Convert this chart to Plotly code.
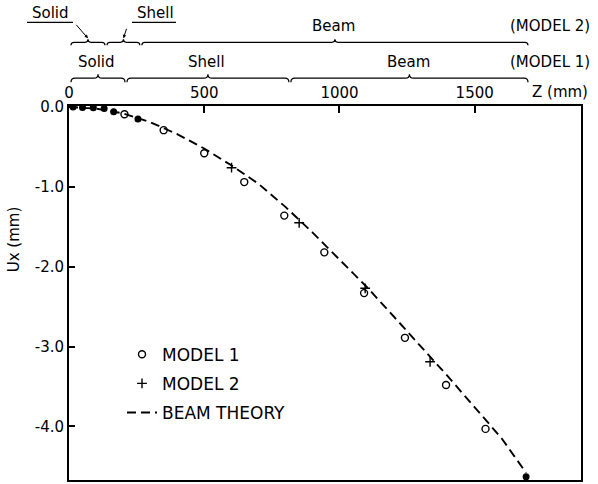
import plotly.graph_objects as go

# Axial position along the model (mm) and lateral displacement Ux (mm)
beam_z = [0, 100, 200, 300, 400, 500, 600, 700, 800, 900, 1000, 1100,
          1200, 1300, 1400, 1500, 1600, 1690]
beam_u = [0.0, -0.02, -0.08, -0.19, -0.34, -0.52, -0.73, -0.96, -1.25, -1.57,
          -1.91, -2.25, -2.62, -2.99, -3.37, -3.76, -4.15, -4.58]

model1_z = [205, 350, 500, 648, 796, 944, 1091, 1242, 1394, 1540]
model1_u = [-0.09, -0.29, -0.58, -0.94, -1.36, -1.82, -2.33, -2.89, -3.48, -4.03]

model2_z = [601, 851, 1095, 1335]
model2_u = [-0.76, -1.45, -2.27, -3.19]

# points where both models give the same result (drawn solid)
both_z = [15, 50, 90, 130, 165, 255, 1690]
both_u = [0.0, -0.005, -0.01, -0.02, -0.06, -0.15, -4.63]

x_ticks = [0, 500, 1000, 1500]
x_tick_text = ["0", "500", "1000", "1500"]
y_ticks = [0, -1, -2, -3, -4]
y_tick_text = ["0.0", "-1.0", "-2.0", "-3.0", "-4.0"]

# element zones along z for each model: (label, start, end)
zones_model1 = [("Solid", 0, 207), ("Shell", 207, 813), ("Beam", 813, 1697)]
zones_model2 = [("Solid", 0, 133), ("Shell", 133, 262), ("Beam", 262, 1697)]

W, H = 598, 484
ML, MR, MT, MB = 69, 17, 106, 2
X_MAX = 1893
Y_RANGE = [-4.67, 0.0125]
FONT = "DejaVu Sans"

plot_w = W - ML - MR
plot_h = H - MT - MB


def px_x(z):
    return ML + z / X_MAX * plot_w


def to_paper(xp, yp):
    return (xp - ML) / plot_w, (H - MB - yp) / plot_h


def brace_path(z0, z1, y, h=4):
    x0, x1 = px_x(z0) + 2, px_x(z1)
    xm = (x0 + x1) / 2
    pts = [
        ("M", [(x0, y + h)]),
        ("Q", [(x0, y), (x0 + h, y)]),
        ("L", [(xm - h, y)]),
        ("Q", [(xm, y), (xm, y - h)]),
        ("Q", [(xm, y), (xm + h, y)]),
        ("L", [(x1 - h, y)]),
        ("Q", [(x1, y), (x1, y + h)]),
    ]
    parts = []
    for cmd, coords in pts:
        cs = " ".join("%.5f,%.5f" % to_paper(a, b) for a, b in coords)
        parts.append(cmd + " " + cs)
    return " ".join(parts)


def label(x, y, text, size=15, xref="paper", anchor="center", angle=0):
    return dict(x=x, y=y, xref=xref, yref="paper", text=text,
                showarrow=False, xanchor=anchor, yanchor="middle",
                textangle=angle, font=dict(size=size))


fig = go.Figure()

fig.add_trace(go.Scatter(
    x=beam_z, y=beam_u, mode="lines", name="BEAM THEORY",
    line=dict(color="black", width=1.9, dash="9px,5px"),
    legendrank=3, legendgroup="c",
))
fig.add_trace(go.Scatter(
    x=model1_z, y=model1_u, mode="markers", name="MODEL 1",
    marker=dict(symbol="circle-open", size=7, color="black",
                line=dict(width=1.4, color="black")),
    legendrank=1, legendgroup="a",
))
fig.add_trace(go.Scatter(
    x=model2_z, y=model2_u, mode="markers", name="MODEL 2",
    marker=dict(symbol="cross-thin-open", size=7, color="black",
                line=dict(width=1.4, color="black")),
    legendrank=2, legendgroup="b",
))
fig.add_trace(go.Scatter(
    x=both_z, y=both_u, mode="markers", name="MODEL 1 + 2",
    marker=dict(symbol="circle", size=7, color="black"),
    showlegend=False,
))

shapes = []
annotations = []
right_edge = (592 - ML) / plot_w

# MODEL 1 zone braces (lower row)
y1 = 78
_, y_lab1 = to_paper(0, 62)
for name, z0, z1 in zones_model1:
    shapes.append(dict(type="path", xref="paper", yref="paper",
                       path=brace_path(z0, z1, y1),
                       line=dict(color="black", width=1.2)))
    annotations.append(label((z0 + z1) / 2, y_lab1, name, xref="x"))
annotations.append(label(right_edge, y_lab1, "(MODEL 1)", anchor="right"))

# MODEL 2 zone braces (upper row)
y2 = 42
for name, z0, z1 in zones_model2:
    shapes.append(dict(type="path", xref="paper", yref="paper",
                       path=brace_path(z0, z1, y2, h=3),
                       line=dict(color="black", width=1.2)))
beam2 = zones_model2[2]
_, y_lab2 = to_paper(0, 26)
annotations.append(label((beam2[1] + beam2[2]) / 2, y_lab2, "Beam", xref="x"))
annotations.append(label(right_edge, y_lab2, "(MODEL 2)", anchor="right"))

# short Solid / Shell zones of MODEL 2 are labelled off to the side
for name, (cx, lx0, lx1), z0, z1, tail in [
    ("Solid", (50, 27, 73), zones_model2[0][1], zones_model2[0][2], (75, 23)),
    ("Shell", (155, 132, 176), zones_model2[1][1], zones_model2[1][2], (127, 27)),
]:
    xp, yp = to_paper(cx, 13)
    annotations.append(label(xp, yp, name, size=15))
    ax0, ay0 = to_paper(lx0, 22)
    ax1, _ = to_paper(lx1, 22)
    shapes.append(dict(type="line", xref="paper", yref="paper",
                       x0=ax0, x1=ax1, y0=ay0, y1=ay0,
                       line=dict(color="black", width=1.3)))
    tip_x = (px_x(z0) + 2 + px_x(z1)) / 2
    tx, ty = to_paper(tip_x, y2 - 4)
    annotations.append(dict(x=tx, y=ty, xref="paper", yref="paper", text="",
                            showarrow=True, arrowhead=2, arrowsize=0.7,
                            arrowwidth=1, arrowcolor="black",
                            ax=tail[0] - tip_x, ay=tail[1] - (y2 - 4)))

# axis titles
xp, yp = to_paper(560, 92)
annotations.append(label(xp, yp, "Z (mm)", size=15))
xp, yp = to_paper(14, 240)
annotations.append(label(xp, yp, "Ux (mm)", size=15, angle=-90))

lx, ly = to_paper(122, 338)

fig.update_layout(
    width=W, height=H,
    margin=dict(l=ML, r=MR, t=MT, b=MB, pad=0),
    paper_bgcolor="white", plot_bgcolor="white",
    font=dict(family=FONT, color="black"),
    showlegend=True,
    legend=dict(x=lx, y=ly, xanchor="left", yanchor="top",
                bgcolor="rgba(0,0,0,0)", font=dict(size=17),
                tracegroupgap=4, itemwidth=30),
    xaxis=dict(range=[0, X_MAX], side="top", tickvals=x_ticks,
               ticktext=x_tick_text, ticks="inside", ticklen=7,
               tickwidth=1.5, tickcolor="black", showgrid=False,
               zeroline=False, showline=True, linecolor="black",
               linewidth=2, mirror=True, tickfont=dict(size=15)),
    yaxis=dict(range=Y_RANGE, tickvals=y_ticks, ticktext=y_tick_text,
               ticks="inside", ticklen=6, tickwidth=1.5, tickcolor="black",
               showgrid=False, zeroline=False, showline=True,
               linecolor="black", linewidth=2, mirror=True,
               tickfont=dict(size=15)),
    shapes=shapes,
    annotations=annotations,
)

fig.write_html("out.html")
